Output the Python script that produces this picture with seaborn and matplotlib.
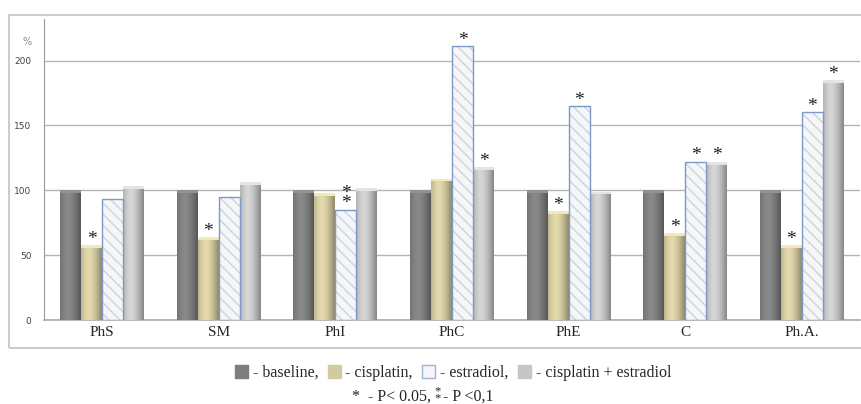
import numpy as np
import pandas as pd
import seaborn as sns
import matplotlib.pyplot as plt
from matplotlib.patches import Rectangle, Patch
from matplotlib.colors import to_rgb

# -------------------------
# Data (% of baseline)
# -------------------------
fractions = ["PhS", "SM", "PhI", "PhC", "PhE", "C", "Ph.A."]
groups = ["baseline", "cisplatin", "estradiol", "cisplatin + estradiol"]

baseline = [100, 100, 100, 100, 100, 100, 100]
cisplatin = [58, 64, 98, 109, 84, 67, 58]
estradiol = [93, 95, 85, 211, 165, 122, 160]
cis_estr = [103, 106, 102, 118, 99, 122, 185]

# significance marks: "*" P<0.05, "**" (stacked) P<0.1
sig_cisplatin = ["*", "*", "", "", "*", "*", "*"]
sig_estradiol = ["", "", "**", "*", "*", "*", "*"]
sig_cis_estr = ["", "", "", "*", "", "*", "*"]

colors = ["#7f7f7f", "#d3caa0", "#f4f6f9", "#c6c6c6"]

df = pd.DataFrame({
    "fraction": np.tile(fractions, 4),
    "group": np.repeat(groups, len(fractions)),
    "value": baseline + cisplatin + estradiol + cis_estr,
})

# -------------------------
# Figure
# -------------------------
sns.set_style("white")
fig = plt.figure(figsize=(8.61, 4.04), dpi=100)
ax = fig.add_axes([44 / 861, 84 / 404, 816 / 861, 301 / 404])

sns.barplot(data=df, x="fraction", y="value", hue="group", hue_order=groups,
            palette=colors, width=0.72, gap=0, saturation=1, legend=False,
            errorbar=None, ax=ax, zorder=3, linewidth=0)


def shade(c, k):
    return np.clip(np.array(to_rgb(c)) * k, 0, 1)


# cylinder-like shading for the solid bars, marble-ish hatch for estradiol
prof = np.linspace(-1, 1, 40)
light = 1.08 - 0.28 * np.abs(prof + 0.25) ** 1.6
for cont, col in zip(ax.containers, colors):
    for bar in cont:
        x0, w, h = bar.get_x(), bar.get_width(), bar.get_height()
        if col == colors[2]:
            bar.set_edgecolor("#d0d2d6")
            bar.set_linewidth(0)
            bar.set_hatch("\\\\\\")
            ax.add_patch(Rectangle((x0, 0), w, h, fill=False, edgecolor="#7d99c6",
                                   lw=1.0, zorder=3.7))
            continue
        img = np.array([[shade(col, k) for k in light]])
        im = ax.imshow(img, extent=[x0, x0 + w, 0, h], aspect="auto",
                       zorder=3.5, interpolation="bilinear")
        im.set_clip_path(bar)
        ax.add_patch(Rectangle((x0, h - 2.2), w, 2.2, color=shade(col, 1.15),
                               zorder=3.6, lw=0))

ax.set_ylim(0, 232)
ax.set_xlim(-0.5, len(fractions) - 0.5)

# significance asterisks
for cont, marks in zip(ax.containers[1:], [sig_cisplatin, sig_estradiol, sig_cis_estr]):
    for bar, m in zip(cont, marks):
        if not m:
            continue
        xc = bar.get_x() + bar.get_width() / 2
        top = bar.get_height()
        txt = "*\n*" if m == "**" else "*"
        ax.annotate(txt, (xc, top), xytext=(0, -2), textcoords="offset points",
                    ha="center", va="bottom", fontsize=14, zorder=5,
                    linespacing=0.5, family="Liberation Serif", color="#1e1e1e")

# axes styling
ax.set_yticks([0, 50, 100, 150, 200])
ax.yaxis.grid(True, color="#b4b4b4", lw=1)
ax.set_axisbelow(True)
ax.tick_params(axis="y", labelsize=6.5, labelcolor="#444444", length=4,
               color="#999999", pad=5)
ax.set_xticks(range(len(fractions)))
ax.set_xticklabels(fractions, family="Liberation Serif", fontsize=11)
ax.tick_params(axis="x", length=0, pad=4)
ax.set_xticks(np.arange(len(fractions) + 1) - 0.5, minor=True)
ax.tick_params(axis="x", which="minor", length=3, color="#aaaaaa")
for s in ["top", "right"]:
    ax.spines[s].set_visible(False)
ax.spines["left"].set_color("#999999")
ax.spines["bottom"].set_color("#aaaaaa")
ax.spines["bottom"].set_linewidth(1.2)
ax.set_xlabel("")
ax.set_ylabel("")
ax.text(-0.015, 1 - 23 / 301, "%", transform=ax.transAxes, ha="right",
        va="center", fontsize=7, color="#888888")

# outer chart frame
fig.patches.append(Rectangle((9 / 861, 56 / 404), 1.0, 333 / 404,
                             transform=fig.transFigure, fill=False,
                             edgecolor="#cccccc", lw=1.5, zorder=0))

# legend
handles = [Patch(facecolor=c, edgecolor="#9fb3d3" if i == 2 else c)
           for i, c in enumerate(colors)]
labels = ["- baseline,", "- cisplatin,", "- estradiol,", "- cisplatin + estradiol"]
fig.legend(handles, labels, ncol=4, loc="center", bbox_to_anchor=(453 / 861, 31 / 404),
           frameon=False, prop={"family": "Liberation Serif", "size": 11.5},
           handlelength=0.8, handleheight=0.8, handletextpad=0.3, columnspacing=0.6)

fig.text(431 / 861, 7 / 404, "*  - P< 0.05,", ha="right", va="center",
         family="Liberation Serif", fontsize=11.5)
fig.text(438 / 861, 9 / 404, "*\n*", ha="center", va="center", linespacing=0.45,
         family="Liberation Serif", fontsize=9)
fig.text(443 / 861, 7 / 404, "- P <0,1", ha="left", va="center",
         family="Liberation Serif", fontsize=11.5)

plt.savefig("out.png", dpi=100)
plt.close()
